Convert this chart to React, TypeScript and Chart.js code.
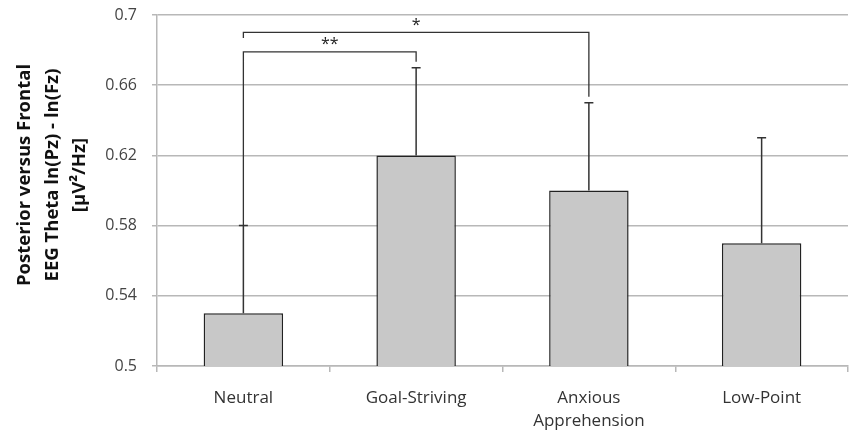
import React, { useEffect, useRef } from "react";
import { Chart, registerables } from "chart.js";

Chart.register(...registerables);

const categories: (string | string[])[] = ["Neutral", "Goal-Striving", ["Anxious", "Apprehension"], "Low-Point"];
const means = [0.53, 0.62, 0.6, 0.57];
const upperErrors = [0.05, 0.05, 0.05, 0.06];
const yTicks = [0.5, 0.54, 0.58, 0.62, 0.66, 0.7];
const yTitleLines = ["Posterior versus Frontal", "EEG Theta ln(Pz) - ln(Fz)", "[µV²/Hz]"];

// significance brackets: from category index, to category index, bar level, left drop end, right drop end, label
const bracketFrom = [0, 0];
const bracketTo = [1, 2];
const bracketLevel = [0.679, 0.6901];
const bracketLeftEnd = [0.58, 0.6869];
const bracketRightEnd = [0.6734, 0.6534];
const bracketLabels = ["**", "*"];

const FONT = "'Open Sans', 'DejaVu Sans', sans-serif";

const errorBarPlugin = {
  id: "errorBars",
  afterDatasetsDraw(chart: any) {
    const ctx = chart.ctx;
    const meta = chart.getDatasetMeta(0);
    const y = chart.scales.y;
    ctx.save();
    ctx.strokeStyle = "#333";
    ctx.lineWidth = 1.5;
    meta.data.forEach((bar: any, i: number) => {
      const top = y.getPixelForValue(means[i] + upperErrors[i]);
      ctx.beginPath();
      ctx.moveTo(bar.x, bar.y);
      ctx.lineTo(bar.x, top);
      ctx.moveTo(bar.x - 4.5, top);
      ctx.lineTo(bar.x + 4.5, top);
      ctx.stroke();
    });
    ctx.restore();
  },
};

const bracketPlugin = {
  id: "brackets",
  afterDatasetsDraw(chart: any) {
    const ctx = chart.ctx;
    const x = chart.scales.x;
    const y = chart.scales.y;
    ctx.save();
    ctx.strokeStyle = "#333";
    ctx.lineWidth = 1.3;
    ctx.fillStyle = "#222";
    ctx.font = `16px ${FONT}`;
    ctx.textAlign = "center";
    ctx.textBaseline = "bottom";
    bracketFrom.forEach((from, i) => {
      const x1 = x.getPixelForValue(from);
      const x2 = x.getPixelForValue(bracketTo[i]);
      const yl = y.getPixelForValue(bracketLevel[i]);
      ctx.beginPath();
      ctx.moveTo(x1, y.getPixelForValue(bracketLeftEnd[i]));
      ctx.lineTo(x1, yl);
      ctx.lineTo(x2, yl);
      ctx.lineTo(x2, y.getPixelForValue(bracketRightEnd[i]));
      ctx.stroke();
      ctx.fillText(bracketLabels[i], (x1 + x2) / 2, yl + 1);
    });
    ctx.restore();
  },
};

const yTitlePlugin = {
  id: "yTitle",
  afterDraw(chart: any) {
    const ctx = chart.ctx;
    ctx.save();
    ctx.fillStyle = "#111";
    ctx.font = `bold 18.5px ${FONT}`;
    ctx.textAlign = "center";
    ctx.textBaseline = "middle";
    const cx = [25, 52.5, 80];
    yTitleLines.forEach((line, i) => {
      ctx.save();
      ctx.translate(cx[i], 175);
      ctx.rotate(-Math.PI / 2);
      ctx.fillText(line, 0, 0);
      ctx.restore();
    });
    ctx.restore();
  },
};

export default function App() {
  const ref = useRef<HTMLCanvasElement | null>(null);
  useEffect(() => {
    document.body.style.margin = "0";
    if (!ref.current) return;
    const chart = new Chart(ref.current, {
      type: "bar",
      data: {
        labels: categories,
        datasets: [
          {
            data: means,
            backgroundColor: "#c8c8c8",
            borderColor: "#222",
            borderWidth: 1.5,
            barPercentage: 0.46,
            categoryPercentage: 1,
          },
        ],
      },
      options: {
        animation: false,
        responsive: true,
        maintainAspectRatio: false,
        layout: { padding: { top: 15, right: 1, left: 0, bottom: 0 } },
        plugins: { legend: { display: false }, tooltip: { enabled: false }, title: { display: false } },
        scales: {
          x: {
            grid: { display: true, drawOnChartArea: false, drawTicks: true, tickLength: 6, color: "#b8b8b8", lineWidth: 1.5, offset: true },
            border: { display: true, color: "#b8b8b8", width: 1.5 },
            ticks: { font: { family: FONT, size: 17, lineHeight: 1.38 }, color: "#333", padding: 14, maxRotation: 0, autoSkip: false },
            afterFit(scale: any) {
              scale.height = 68;
              scale.paddingTop = 0;
              scale.paddingBottom = 0;
            },
          },
          y: {
            min: 0.5,
            max: 0.7,
            afterBuildTicks(scale: any) {
              scale.ticks = yTicks.map((v) => ({ value: v }));
            },
            grid: { color: "#b8b8b8", lineWidth: 1.5, tickLength: 5 },
            border: { display: true, color: "#b8b8b8", width: 1.5 },
            ticks: {
              font: { family: FONT, size: 16 },
              color: "#444",
              padding: 15,
              callback: (v: any) => String(Number(Number(v).toFixed(2))),
            },
            afterFit(scale: any) {
              scale.width = 157;
              scale.paddingTop = 0;
              scale.paddingBottom = 0;
            },
          },
        },
      },
      plugins: [errorBarPlugin, bracketPlugin, yTitlePlugin],
    });
    return () => chart.destroy();
  }, []);
  return (
    <div style={{ width: 849, height: 434, position: "relative" }}>
      <canvas ref={ref} />
    </div>
  );
}
